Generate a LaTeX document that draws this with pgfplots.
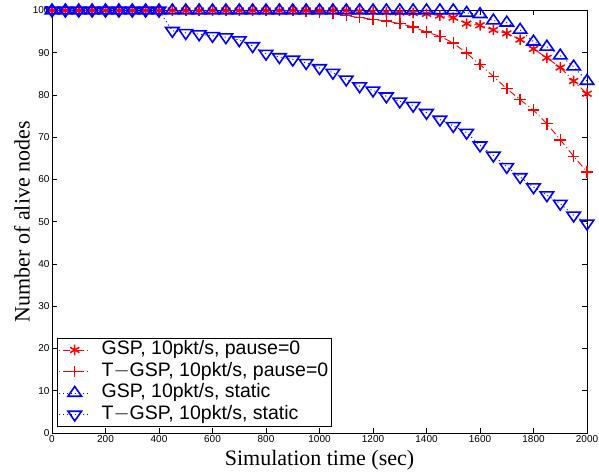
\documentclass[border=0pt]{standalone}
\usepackage{fontspec}
\setmainfont{Liberation Serif}
\newfontfamily\arial{Liberation Sans}
\usepackage{pgfplots}
\pgfplotsset{compat=1.18}
\usepackage{pgfplotstable}

\pgfplotstableread{
x gsp tgsp gsps tgsps
0    100 100 100 100
50   100 100 100 100
100  100 100 100 100
150  100 100 100 100
200  100 100 100 100
250  100 100 100 100
300  100 100 100 100
350  100 100 100 100
400  100 100 100 100
450  100 100 100 95.2
500  100 100 100 94.7
550  100 100 100 94.4
600  100 100 100 94.0
650  100 100 100 93.7
700  100 100 100 93.0
750  100 100 100 91.6
800  100 100 100 89.8
850  100 100 100 89.0
900  100 100 100 88.4
950  100 99.9 100 87.6
1000 100 99.7 100 86.4
1050 100 99.3 100 85.3
1100 100 98.8 100 83.7
1150 99.8 98.3 100 82.1
1200 99.7 97.9 100 81.1
1250 99.6 97.5 100 79.7
1300 99.5 96.9 100 78.5
1350 99.4 96.1 100 77.5
1400 99.2 94.9 100 75.8
1450 98.8 93.9 100 74.2
1500 98.3 92.3 100 72.7
1550 96.9 89.9 99.4 71.1
1600 96.5 87.2 99.1 68.1
1650 95.4 84.4 97.6 65.7
1700 94.6 81.5 97.1 63.0
1750 93.1 78.9 95.4 60.6
1800 90.9 76.4 92.6 58.2
1850 88.8 73.2 91.4 56.3
1900 86.5 69.4 89.3 54.3
1950 83.3 65.5 86.7 51.5
2000 80.3 61.8 83.3 49.6
}\datatable

\begin{document}
\begin{tikzpicture}
\begin{axis}[
  scale only axis,
  width=535pt, height=422.5pt,
  xmin=0, xmax=2000, ymin=0, ymax=100,
  xtick={0,200,...,2000}, ytick={0,10,...,100},
  tick align=inside, major tick length=5pt,
  axis line style={line width=0.9pt},
  every tick/.style={line width=0.6pt, black},
  /pgf/number format/assume math mode=true,
  /pgf/number format/1000 sep={},
  tick label style={font=\arial\fontsize{10}{12}\selectfont},
  xticklabel style={yshift=1pt},
  yticklabel style={xshift=1pt},
  xlabel={Simulation time (sec)},
  ylabel={Number of alive nodes},
  label style={font=\fontsize{22}{24}\selectfont},
  xlabel style={yshift=-1pt},
  ylabel style={yshift=-4pt},
  legend cell align=left,
  legend style={at={(0.01,0.015)}, anchor=south west, draw=black, line width=0.9pt,
    font=\arial\fontsize{19.5}{21}\selectfont, row sep=0pt, column sep=9pt, inner sep=1pt,
    nodes={inner sep=2pt, text height=13.5pt, text depth=4pt}},
  legend image code/.code={%
    \draw[mark repeat=2,mark phase=2,#1] plot coordinates {(6pt,0pt) (21.5pt,0pt) (37pt,0pt)};},
]
\addplot[red, line width=0.9pt, dash pattern=on 1pt off 3pt on 7pt off 3pt, mark=asterisk, mark size=5.3pt,
  mark options={solid, line width=1.5pt}] table[x=x,y=gsp] {\datatable};
\addlegendentry{GSP, 10pkt/s, pause=0}
\addplot[red, line width=0.9pt, dash pattern=on 1pt off 3pt on 7pt off 3pt, mark=+, mark size=5.8pt,
  mark options={solid, line width=1.5pt}] table[x=x,y=tgsp] {\datatable};
\addlegendentry{T$-$GSP, 10pkt/s, pause=0}
\addplot[blue, line width=0.9pt, dash pattern=on 1pt off 3pt, mark=triangle, mark size=6.5pt,
  mark options={solid, line width=1.6pt, xscale=1.2}] table[x=x,y=gsps] {\datatable};
\addlegendentry{GSP, 10pkt/s, static}
\addplot[blue, line width=0.9pt, dash pattern=on 1pt off 3pt, mark=triangle, mark size=6.5pt,
  mark options={solid, line width=1.6pt, xscale=1.2, rotate=180}] table[x=x,y=tgsps] {\datatable};
\addlegendentry{T$-$GSP, 10pkt/s, static}
\end{axis}
\pgfresetboundingbox
\path[use as bounding box] ([shift={(-52pt,-42pt)}]current axis.south west) rectangle ([shift={(12pt,10.5pt)}]current axis.north east);
\end{tikzpicture}
\end{document}
